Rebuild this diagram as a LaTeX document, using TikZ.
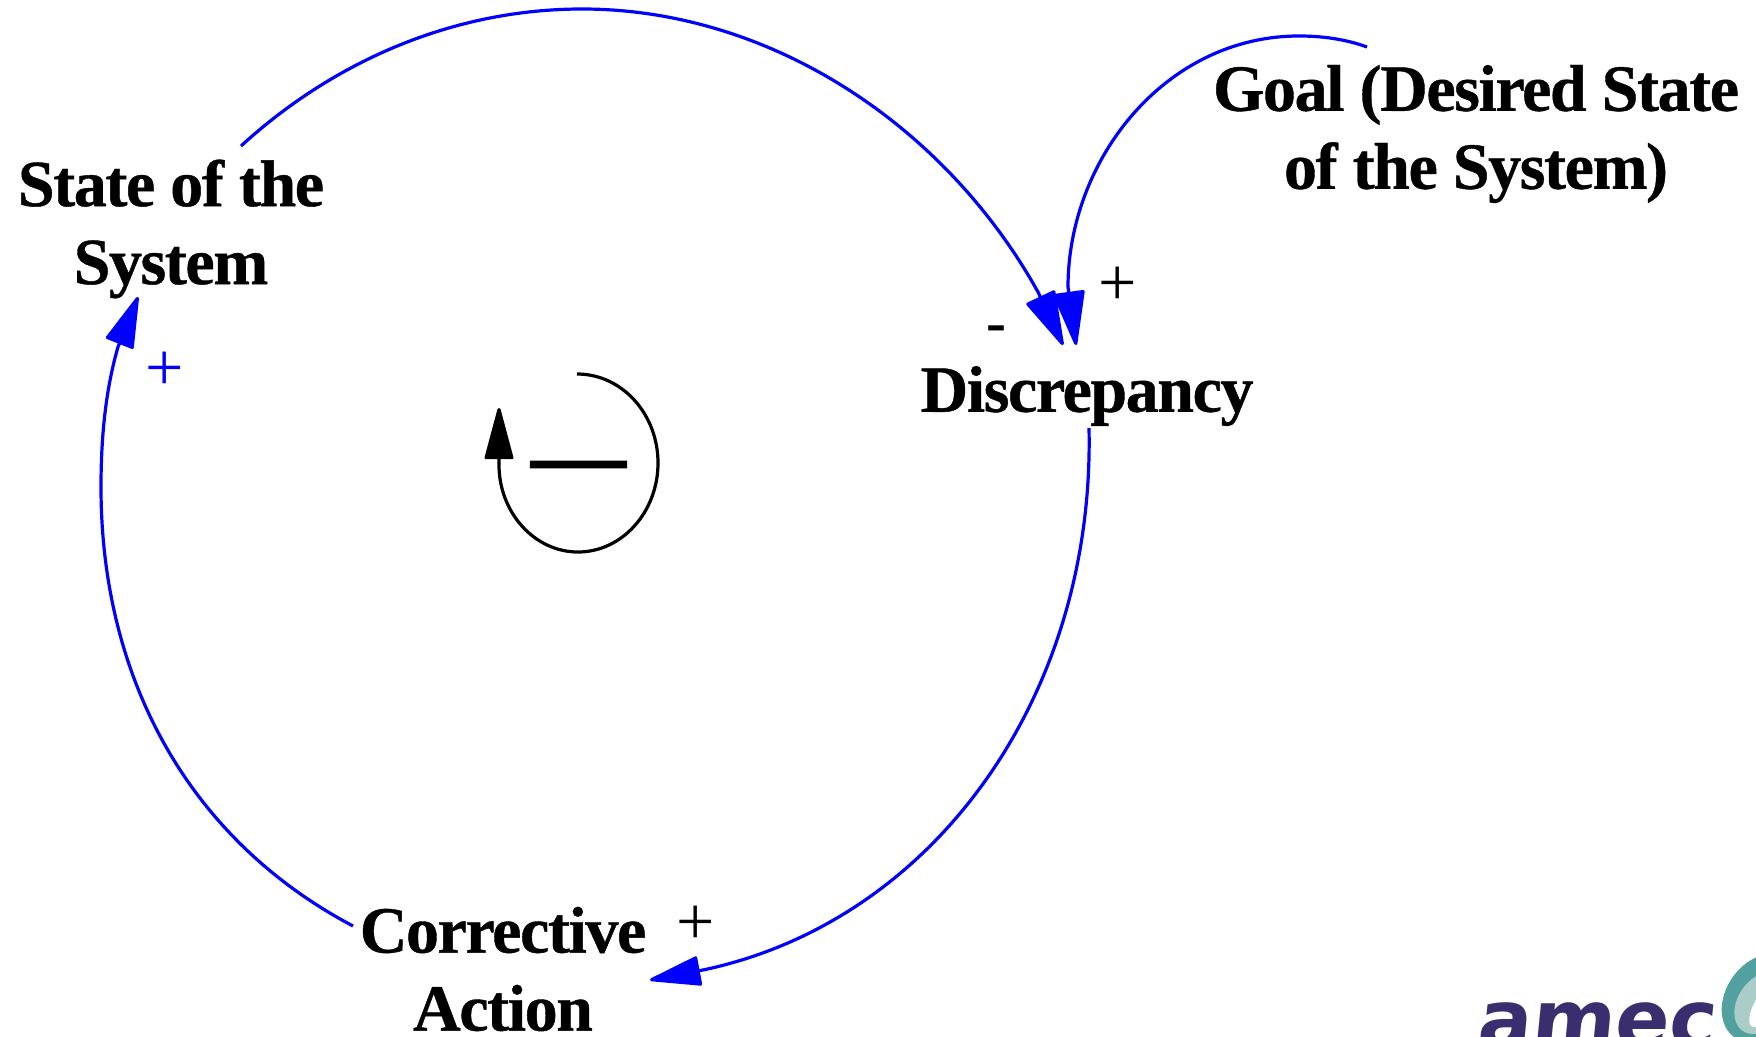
\documentclass[tikz,border=0pt]{standalone}
\usepackage{fontspec}
\setmainfont{Liberation Serif}
\newfontfamily\varfont[LetterSpace=-2.15,FakeBold=0.6]{Liberation Serif Bold}
\newfontfamily\signfont[FakeBold=1.2]{Liberation Serif Bold}
\newfontfamily\logofont{DejaVu Sans Bold}
\usetikzlibrary{arrows.meta}
\definecolor{linkblue}{RGB}{0,0,255}
\definecolor{logopurple}{RGB}{58,46,110}
\definecolor{logoteal}{RGB}{82,160,160}
\definecolor{logopale}{RGB}{170,205,200}
\tikzset{
  x=1pt,y=-1pt,
  varlabel/.style={inner sep=0pt,align=center,font=\varfont\fontsize{66}{78}\selectfont,text=black},
  polarity/.style={inner sep=0pt,font=\fontsize{68}{68}\selectfont},
  link/.style={draw=linkblue,line width=3.2pt,-{Triangle[length=55pt,width=30pt,round]},fill=none},
  linkbig/.style={draw=linkblue,line width=3.2pt,-{Triangle[length=58pt,width=32pt,round]},fill=none},
  looparrow/.style={draw=black,line width=3.2pt,-{Triangle[length=56pt,width=29pt,round]}}
}
\begin{document}
\begin{tikzpicture}
\useasboundingbox (0,0) rectangle (1756,1036);
% variables
\node[varlabel] (state) at (171,229) {State of the\\System};
\node[varlabel] (goal) at (1476,134) {Goal (Desired State\\of the System)};
\node[varlabel] (disc) at (1087,396) {Discrepancy};
\node[varlabel] (corr) at (503,969) {Corrective\\Action};
% connector ends
\coordinate (stateOut) at (241,146);
\coordinate (stateIn) at (138,297);
\coordinate (goalOut) at (1367,47);
\coordinate (discInA) at (1063,345);
\coordinate (discInB) at (1076,345);
\coordinate (discOut) at (1089,428);
\coordinate (corrIn) at (650,980);
\coordinate (corrOut) at (353,926);
% links
\draw[linkbig] (stateOut) .. controls (335,60) and (455,9) .. (582,9)
  .. controls (770,9) and (945,125) .. (1038,292) -- (discInA);
\draw[linkbig] (goalOut) .. controls (1345,39) and (1322,36) .. (1299,36)
  .. controls (1165,36) and (1068,160) .. (1068,287) -- (discInB);
\draw[link] (discOut) .. controls (1095,700) and (930,925) .. (698,971) -- (corrIn);
\draw[link] (corrOut) .. controls (190,840) and (101,680) .. (101,487)
  .. controls (101,430) and (107,385) .. (118,347) -- (stateIn);
% polarities
\node[polarity] (pgoal) at (1118,286) {+};
\node[polarity,font=\bfseries\fontsize{60}{60}\selectfont] (pstate) at (996,334) {-};
\node[polarity] (pcorr) at (696,925) {+};
\node[polarity,text=linkblue] (psys) at (165,371) {+};
% loop
\coordinate (loopStart) at (577,374);
\coordinate (loopTip) at (499,408);
\draw[looparrow] (loopStart) .. controls (622,374) and (658,414) .. (658,463)
  .. controls (658,512) and (622,552) .. (578,552)
  .. controls (534,552) and (499,512) .. (499,465) -- (loopTip);
\node[inner sep=0pt,font=\signfont\fontsize{95}{95}\selectfont] (loopsign) at (578.5,474) {—};
% logo, cut off by the picture's edge
\begin{scope}
\clip (0,0) rectangle (1756,1036);
\node[inner sep=0pt,anchor=base west,text=logopurple,font=\logofont\fontsize{80}{80}\selectfont,xslant=0.1] (logo) at (1476,1047) {amec};
\fill[logoteal,rotate around={-35:(1762,998)}] (1762,998) ellipse (36 and 48);
\fill[logopale,rotate around={-35:(1762,1003)}] (1762,1003) ellipse (24 and 34);
\fill[white,rotate around={-35:(1770,1000)}] (1770,1000) ellipse (12 and 32);
\end{scope}
\end{tikzpicture}
\end{document}
